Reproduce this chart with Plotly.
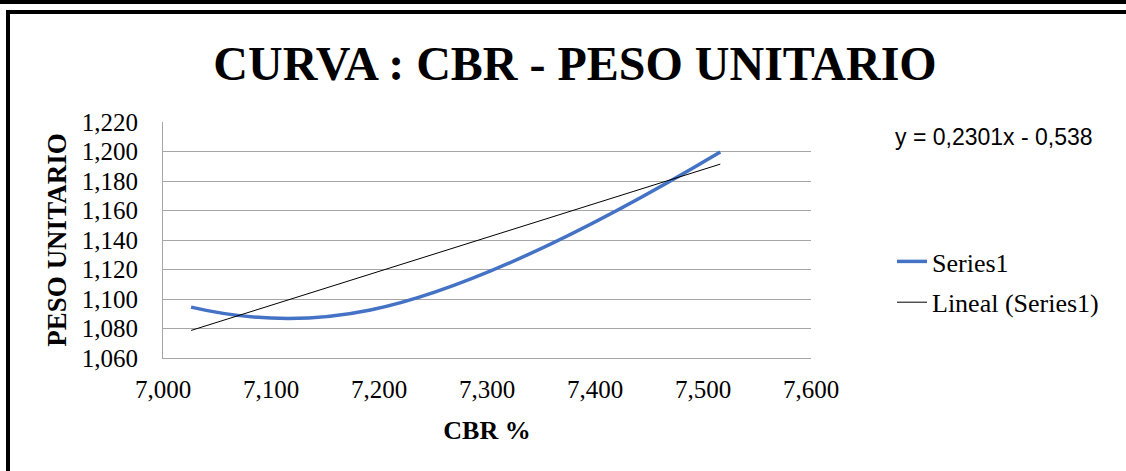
import plotly.graph_objects as go

# CBR (%) vs unit weight, three specimens
cbr = [7.026, 7.192, 7.516]
peso_unitario = [1.0945, 1.0925, 1.1997]

# Excel linear trendline as printed on the chart
trend_slope = 0.2301
trend_intercept = -0.538
trend_label = "y = 0,2301x - 0,538"

W, H = 1126, 471
L, R, T, B = 163, 811, 122, 358  # plot area in pixels


def px_x(px):
    return (px - L) / (R - L)


def px_y(py):
    return (B - py) / (B - T)


trend_x = [min(cbr), max(cbr)]
trend_y = [trend_slope * v + trend_intercept for v in trend_x]

fig = go.Figure()

fig.add_trace(go.Scatter(
    x=cbr, y=peso_unitario,
    mode="lines",
    line=dict(color="#4472C4", width=3.5, shape="spline", smoothing=1.3),
    name="Series1",
    legendgroup="a",
))

fig.add_trace(go.Scatter(
    x=trend_x, y=trend_y,
    mode="lines",
    line=dict(color="black", width=1),
    name="Lineal (Series1)",
    legendgroup="b",
))

serif = "Liberation Serif, Times New Roman, serif"

fig.update_layout(
    width=W, height=H,
    margin=dict(l=L, r=W - R, t=T, b=H - B),
    paper_bgcolor="white",
    plot_bgcolor="white",
    separators=",.",
    font=dict(family=serif, size=25, color="black"),
    title=dict(
        text="<b>CURVA : CBR - PESO UNITARIO</b>",
        font=dict(family=serif, size=48, color="black"),
        x=575 / W, xanchor="center",
        y=1 - 63 / H, yanchor="middle",
        xref="container", yref="container",
    ),
    legend=dict(
        x=px_x(892), xanchor="left",
        y=px_y(238), yanchor="top",
        font=dict(family=serif, size=26, color="black"),
        traceorder="grouped",
        tracegroupgap=4,
        bgcolor="rgba(0,0,0,0)",
    ),
    showlegend=True,
)

fig.update_xaxes(
    range=[7.0, 7.6], dtick=0.1, tick0=7.0,
    tickformat=".3f",
    showgrid=False, zeroline=False,
    showline=True, linecolor="#A6A6A6", linewidth=1,
    ticks="", ticklabelstandoff=9,
    tickfont=dict(family=serif, size=25, color="black"),
    title=dict(text="<b>CBR %</b>", font=dict(family=serif, size=26, color="black"), standoff=18),
)

fig.update_yaxes(
    range=[1.06, 1.22], dtick=0.02, tick0=1.06,
    tickformat=".3f",
    showgrid=True, gridcolor="#A6A6A6", gridwidth=1,
    zeroline=False,
    showline=True, linecolor="#A6A6A6", linewidth=1,
    ticks="", ticklabelstandoff=19,
    tickfont=dict(family=serif, size=25, color="black"),
    title=dict(text="<b>PESO UNITARIO</b>", font=dict(family=serif, size=27, color="black"), standoff=7),
)

# outer chart frame and top band
fig.add_shape(type="rect", xref="paper", yref="paper",
              x0=px_x(0), x1=px_x(W + 10), y0=px_y(4), y1=px_y(-5),
              fillcolor="black", line=dict(width=0), layer="above")
fig.add_shape(type="rect", xref="paper", yref="paper",
              x0=px_x(8), x1=px_x(W + 20), y0=px_y(H + 20), y1=px_y(12),
              fillcolor="rgba(0,0,0,0)", line=dict(color="black", width=4), layer="above")

fig.add_annotation(
    text=trend_label,
    xref="paper", yref="paper",
    x=px_x(893), xanchor="left",
    y=px_y(137), yanchor="middle",
    showarrow=False,
    font=dict(family="Liberation Sans, Arial, sans-serif", size=23, color="black"),
)

fig.write_html("out.html", config={"displayModeBar": False},
               post_script="document.body.style.margin='0';")
